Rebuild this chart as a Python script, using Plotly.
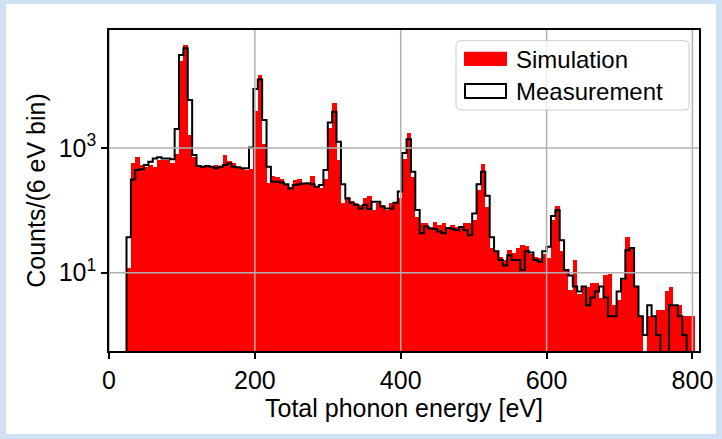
import numpy as np
import plotly.graph_objects as go

# ---- data (6 eV bins starting at 24 eV) ----
bin_start = 24
bin_width = 6

simulation = [
    12, 567, 726, 533, 501, 533, 490, 641, 641, 641,
    582, 794, 25100, 45000, 1620, 726, 533, 501, 514, 501,
    533, 501, 773, 627, 567, 501, 454, 444, 468, 3980,
    15100, 1175, 275, 355, 347, 316, 257, 240, 309, 324,
    275, 271, 355, 240, 229, 324, 2090, 5210, 646, 129,
    166, 141, 129, 122, 155, 170, 100, 129, 122, 100,
    129, 129, 158, 676, 1718, 347, 79, 63, 62, 55,
    66, 59, 62, 55, 59, 55, 55, 63, 63, 71,
    214, 562, 115, 25, 22, 18, 16, 23, 21, 25,
    28, 27, 20, 18, 17, 20, 17, 71, 117, 22,
    10.5, 5.2, 16, 4.5, 5.9, 5.9, 6.8, 6.8, 3.9, 9.1,
    9.5, 3, 3.6, 7.6, 37, 25, 5.9, 2, 0, 2,
    2, 2.5, 2.5, 5, 5.8, 3, 3, 2, 2, 2,
]

measurement = [
    37, 314, 444, 457, 533, 603, 682, 708, 682, 682,
    658, 2018, 31100, 39800, 5890, 773, 514, 501, 514, 501,
    472, 501, 533, 567, 501, 490, 472, 472, 1023, 8850,
    12600, 2820, 501, 288, 288, 279, 263, 225, 255, 263,
    269, 271, 263, 240, 255, 444, 2570, 3830, 1259, 263,
    155, 132, 122, 107, 122, 105, 138, 138, 115, 107,
    107, 132, 200, 832, 1380, 417, 101, 43, 55, 51,
    50, 46, 43, 52, 50, 48, 54, 48, 40, 89,
    263, 417, 172, 37, 22, 16, 13, 19, 16, 16,
    11, 22, 21, 16, 15, 22, 26, 81, 100, 33,
    11, 9, 6, 5, 6, 3, 4, 5, 6, 4,
    2, 2, 5, 8, 23, 25, 6, 2, 1, 3,
    2, 1, 0, 0, 3, 3, 2, 1, 0, 0,
]

x_ticks = [0, 200, 400, 600, 800]
y_ticks = [10, 1000]
y_tick_labels = ["10<sup>1</sup>", "10<sup>3</sup>"]

# ---- derived geometry from the data ----
n = len(simulation)
edges = bin_start + bin_width * np.arange(n + 1)
centers = edges[:-1] + bin_width / 2.0
floor = 1e-3  # below the visible log range (empty bins drop off the axis)

sim_y = [v if v > 0 else None for v in simulation]
meas = [v if v > 0 else floor for v in measurement]
step_x = [edges[0]] + list(edges[:-1]) + [edges[-1], edges[-1]]
step_y = [floor] + meas + [meas[-1], floor]

FONT = "Liberation Sans, Arial, Helvetica, sans-serif"
TICK_SIZE = 25
TITLE_SIZE = 25
LEG_SIZE = 24

fig = go.Figure()
fig.add_trace(go.Bar(
    x=centers, y=sim_y, width=bin_width,
    marker=dict(color="#ff0000", line=dict(width=0)),
    name="Simulation", showlegend=False,
))
fig.add_trace(go.Scatter(
    x=step_x, y=step_y, mode="lines",
    line=dict(color="black", width=2, shape="hv"),
    name="Measurement", showlegend=False, cliponaxis=True,
))

# page: light blue frame with white card
L, R, T, B = 109, 699, 30, 351
W, H = 722, 439
def px(xp):
    return (xp - L) / (R - L)
def py(yp):
    return (B - yp) / (B - T)

shapes = [
    dict(type="rect", xref="paper", yref="paper", layer="below",
         x0=px(6), x1=px(716), y0=py(434), y1=py(4),
         fillcolor="white", line=dict(width=0)),
]
# gridlines drawn over the filled histogram (as matplotlib does)
for xv in x_ticks:
    shapes.append(dict(type="line", xref="x", yref="paper", layer="above",
                       x0=xv, x1=xv, y0=0, y1=1,
                       line=dict(color="#b0b0b0", width=1.5)))
for yv in y_ticks:
    shapes.append(dict(type="line", xref="paper", yref="y", layer="above",
                       x0=0, x1=1, y0=yv, y1=yv,
                       line=dict(color="#b0b0b0", width=1.5)))

# legend box (matplotlib style)
lx0, lx1, ly0, ly1, r = 456, 689, 40.7, 110, 5
rx, ry = r / (R - L), r / (B - T)
path = (f"M {px(lx0)+rx},{py(ly0)} L {px(lx1)-rx},{py(ly0)} "
        f"Q {px(lx1)},{py(ly0)} {px(lx1)},{py(ly0)-ry} "
        f"L {px(lx1)},{py(ly1)+ry} Q {px(lx1)},{py(ly1)} {px(lx1)-rx},{py(ly1)} "
        f"L {px(lx0)+rx},{py(ly1)} Q {px(lx0)},{py(ly1)} {px(lx0)},{py(ly1)+ry} "
        f"L {px(lx0)},{py(ly0)-ry} Q {px(lx0)},{py(ly0)} {px(lx0)+rx},{py(ly0)} Z")
shapes.append(dict(type="path", xref="paper", yref="paper", layer="above",
                   path=path, fillcolor="rgba(255,255,255,0.8)",
                   line=dict(color="#cccccc", width=1)))
shapes.append(dict(type="rect", xref="paper", yref="paper", layer="above",
                   x0=px(464), x1=px(507), y0=py(66), y1=py(51.7),
                   fillcolor="#ff0000", line=dict(width=0)))
shapes.append(dict(type="rect", xref="paper", yref="paper", layer="above",
                   x0=px(465), x1=px(506), y0=py(98), y1=py(84),
                   fillcolor="white", line=dict(color="black", width=2)))

annotations = [
    dict(text="Simulation", xref="paper", yref="paper", x=px(514), y=py(59),
         xanchor="left", yanchor="middle", showarrow=False,
         font=dict(family=FONT, size=LEG_SIZE, color="black")),
    dict(text="Measurement", xref="paper", yref="paper", x=px(514), y=py(91),
         xanchor="left", yanchor="middle", showarrow=False,
         font=dict(family=FONT, size=LEG_SIZE, color="black")),
]

fig.update_layout(
    width=W, height=H,
    margin=dict(l=L, r=W - R, t=T, b=H - B, autoexpand=False),
    paper_bgcolor="#cfe2f3",
    plot_bgcolor="white",
    bargap=0,
    showlegend=False,
    shapes=shapes,
    annotations=annotations,
    font=dict(family=FONT, size=TICK_SIZE, color="black"),
    xaxis=dict(
        range=[0, 809], tickvals=x_ticks, ticks="outside", ticklen=6,
        tickwidth=1.5, tickcolor="black", showgrid=False, zeroline=False,
        showline=True, linecolor="black", linewidth=1.5, mirror=True,
        tickfont=dict(family=FONT, size=TICK_SIZE),
        title=dict(text="Total phonon energy [eV]", standoff=6,
                   font=dict(family=FONT, size=TITLE_SIZE)),
        automargin=False,
    ),
    yaxis=dict(
        type="log", range=[-0.256, 4.893], tickvals=y_ticks,
        ticktext=y_tick_labels, ticks="outside", ticklen=6,
        tickwidth=1.5, tickcolor="black", showgrid=False, zeroline=False,
        showline=True, linecolor="black", linewidth=1.5, mirror=True,
        tickfont=dict(family=FONT, size=TICK_SIZE),
        title=dict(text="Counts/(6 eV bin)", standoff=6,
                   font=dict(family=FONT, size=TITLE_SIZE)),
        automargin=False,
    ),
)

fig.write_html("out.html")
